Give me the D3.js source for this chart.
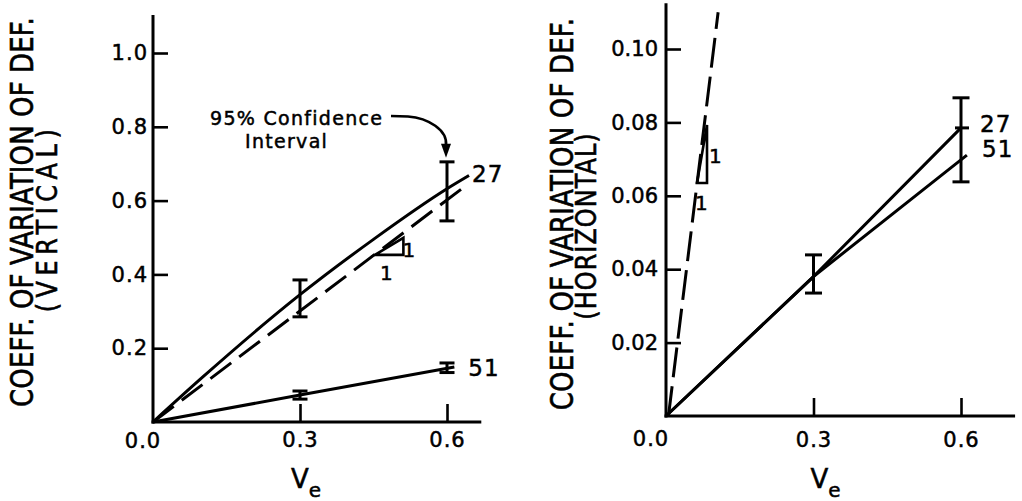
<!DOCTYPE html>
<html><head><meta charset="utf-8">
<script src="https://cdn.jsdelivr.net/npm/d3@7"></script>
<style>
body{margin:0;background:#fff}
svg{display:block}
text{font-family:"DejaVu Sans",sans-serif;fill:#000;stroke:#000;stroke-width:0.5px}
</style>
</head><body>
<svg id="c" width="1022" height="501"></svg>
<script>
// ---------- data ----------
const xTickValues = [0.3, 0.6];
const yTicksVertical = [0.2, 0.4, 0.6, 0.8, 1.0];
const yTicksHorizontal = [0.02, 0.04, 0.06, 0.08, 0.10];

// left panel (vertical)
const vert27 = [[0,0],[0.1,0.12],[0.3,0.345],[0.45,0.495],[0.6,0.632],[0.645,0.668]];
const vert51 = [[0,0],[0.3,0.073],[0.615,0.149]];
const vertOneToOne = [[0,0],[0.632,0.634]];
const vertErr27 = [[0.3,0.285,0.385],[0.6,0.545,0.705]];
const vertErr51 = [[0.3,0.062,0.084],[0.6,0.134,0.160]];
const vertSlopeTri = [[0.453,0.453],[0.511,0.453],[0.511,0.499]];

// right panel (horizontal)
const horz27 = [[0,0],[0.3,0.038],[0.6,0.0785]];
const horz51 = [[0,0],[0.3,0.038],[0.612,0.0711]];
const horzOneToOne = [[0.005,0],[0.106,0.110]];
const horzErr = [[0.3,0.0335,0.0439],[0.6,0.0638,0.0867]];
const horzSlopeTri = [[0.063,0.0635],[0.0834,0.0635],[0.0834,0.0793]];

const seriesLabels = ["27","51"];

// ---------- drawing ----------
const svg = d3.select("#c");

function drawPanel(p){
  const g = svg.append("g");
  const x = p.x, y = p.y;
  g.append("line").attr("x1",x(0)).attr("x2",x(0)).attr("y1",y(0)+1.5).attr("y2",y(p.yMax))
    .attr("stroke","#000").attr("stroke-width",3);
  g.append("line").attr("x1",x(0)-1.5).attr("x2",x(p.xMax)).attr("y1",y(0)).attr("y2",y(0))
    .attr("stroke","#000").attr("stroke-width",3);
  const ya = g.append("g").attr("transform",`translate(${x(0)},0)`)
    .call(d3.axisLeft(y).tickValues(p.yTicks).tickSize(-15).tickPadding(p.yPad).tickFormat(d3.format(p.yFmt)));
  ya.select(".domain").remove();
  ya.selectAll(".tick line").attr("stroke","#000").attr("stroke-width",2.6);
  ya.selectAll(".tick text").attr("font-size",21).attr("font-family","DejaVu Sans").attr("letter-spacing",p.yLs).attr("fill","#000");
  const xa = g.append("g").attr("transform",`translate(0,${y(0)})`)
    .call(d3.axisBottom(x).tickValues(xTickValues).tickSize(-18).tickPadding(p.xPad).tickFormat(d3.format(".1f")));
  xa.select(".domain").remove();
  xa.selectAll(".tick line").attr("stroke","#000").attr("stroke-width",2.6);
  xa.selectAll(".tick text").attr("font-size",21).attr("font-family","DejaVu Sans").attr("letter-spacing",1).attr("fill","#000");
  g.append("text").attr("x",x(0)+p.zeroDx).attr("y",y(0)+p.zeroDy).attr("text-anchor","middle")
    .attr("font-size",21).attr("letter-spacing",1).text("0.0");
  const xl = g.append("text").attr("x",x(0.3)+p.veDx).attr("y",488).attr("text-anchor","middle").attr("font-size",26);
  xl.append("tspan").text("V");
  xl.append("tspan").attr("font-size",20).attr("dy",9).text("e");
  g.append("text").attr("transform",`translate(${p.yl1x},${p.yl1c}) rotate(-90) scale(1,1.2)`)
    .attr("text-anchor","middle").attr("font-size",26).attr("letter-spacing",p.yl1ls)
    .text("COEFF. OF VARIATION OF DEF.");
  g.append("text").attr("transform",`translate(${p.yl2x},${p.yl2c}) rotate(-90) scale(1,1.15)`)
    .attr("text-anchor","middle").attr("font-size",24).attr("letter-spacing",p.yl2ls)
    .text(p.yl2);
  return g;
}

function line(g, x, y, data, opts={}){
  const gen = d3.line().x(d=>x(d[0])).y(d=>y(d[1]));
  if(opts.curve) gen.curve(opts.curve);
  const path = g.append("path").attr("d",gen(data)).attr("fill","none")
    .attr("stroke","#000").attr("stroke-width",opts.w||3).attr("stroke-linejoin","round");
  if(opts.dash) path.attr("stroke-dasharray",opts.dash);
  return path;
}
function errorBars(g, x, y, data, cap){
  data.forEach(d=>{
    g.append("line").attr("x1",x(d[0])).attr("x2",x(d[0])).attr("y1",y(d[1])).attr("y2",y(d[2]))
      .attr("stroke","#000").attr("stroke-width",3);
    [d[1],d[2]].forEach(v=>{
      g.append("line").attr("x1",x(d[0])-cap/2).attr("x2",x(d[0])+cap/2).attr("y1",y(v)).attr("y2",y(v))
        .attr("stroke","#000").attr("stroke-width",3);
    });
  });
}
function slopeTri(g, x, y, tri){
  g.append("path").attr("d",d3.line().x(d=>x(d[0])).y(d=>y(d[1]))(tri)+"Z")
    .attr("fill","none").attr("stroke","#000").attr("stroke-width",2.6);
}

// ---------- left panel ----------
const xL = d3.scaleLinear().domain([0,0.6]).range([153,447]);
const yL = d3.scaleLinear().domain([0,1]).range([422,53]);
const gL = drawPanel({x:xL,y:yL,xMax:0.67,yMax:1.103,yTicks:yTicksVertical,yFmt:".1f",yPad:5,yLs:1,xPad:10,
  zeroDx:-10,zeroDy:26,veDx:6,yl1x:33,yl1c:212,yl1ls:0.1,yl2x:57,yl2c:218,yl2ls:5.5,yl2:"(VERTICAL)"});
line(gL,xL,yL,vertOneToOne,{dash:"26,10",w:3});
line(gL,xL,yL,vert27,{curve:d3.curveMonotoneX});
line(gL,xL,yL,vert51);
errorBars(gL,xL,yL,vertErr27,15);
errorBars(gL,xL,yL,vertErr51,15);
slopeTri(gL,xL,yL,vertSlopeTri);
gL.append("text").attr("x",xL(vertSlopeTri[1][0])-1).attr("y",yL(vertSlopeTri[2][1])+19).attr("font-size",20).text("1");
gL.append("text").attr("x",xL(vertSlopeTri[0][0])+5).attr("y",yL(vertSlopeTri[0][1])+25).attr("font-size",20).text("1");
gL.append("text").attr("x",xL(0.645)+3).attr("y",yL(0.668)+6).attr("font-size",23).attr("letter-spacing",1).text(seriesLabels[0]);
gL.append("text").attr("x",xL(0.615)+14).attr("y",yL(0.149)+9).attr("font-size",23).attr("letter-spacing",1).text(seriesLabels[1]);
gL.append("text").attr("x",210).attr("y",125).attr("font-size",19).attr("letter-spacing",1.3).text("95% Confidence");
gL.append("text").attr("x",245).attr("y",148).attr("font-size",19).attr("letter-spacing",1.3).text("Interval");
const tipX = xL(0.6)-1, tipY = yL(0.705)-4;
const ap = d3.path();
ap.moveTo(391,116); ap.lineTo(408,116.5);
ap.bezierCurveTo(428,118, tipX+2,130, tipX,tipY-12);
gL.append("path").attr("d",ap.toString()).attr("fill","none").attr("stroke","#000").attr("stroke-width",2.6);
gL.append("path").attr("d",`M${tipX-5},${tipY-14}L${tipX+5},${tipY-14}L${tipX},${tipY}Z`).attr("fill","#000");

// ---------- right panel ----------
const xR = d3.scaleLinear().domain([0,0.6]).range([666,961]);
const yR = d3.scaleLinear().domain([0,0.1]).range([416,49]);
const gR = drawPanel({x:xR,y:yR,xMax:0.71,yMax:0.1125,yTicks:yTicksHorizontal,yFmt:".2f",yPad:8,yLs:0,xPad:16,
  zeroDx:-15,zeroDy:30,veDx:12,yl1x:573,yl1c:214,yl1ls:0.2,yl2x:596,yl2c:226,yl2ls:1,yl2:"(HORIZONTAL)"});
line(gR,xR,yR,horzOneToOne,{dash:"30,9",w:3});
line(gR,xR,yR,horz27);
line(gR,xR,yR,horz51);
errorBars(gR,xR,yR,horzErr,17);
gR.append("line").attr("x1",xR(0.6)-6).attr("x2",xR(0.6)+8).attr("y1",yR(0.0785)).attr("y2",yR(0.0785))
  .attr("stroke","#000").attr("stroke-width",3);
slopeTri(gR,xR,yR,horzSlopeTri);
gR.append("text").attr("x",xR(horzSlopeTri[1][0])+2).attr("y",yR(horzSlopeTri[2][1])+38).attr("font-size",20).text("1");
gR.append("text").attr("x",xR(horzSlopeTri[0][0])-2).attr("y",yR(horzSlopeTri[0][1])+27).attr("font-size",20).text("1");
gR.append("text").attr("x",980).attr("y",yR(0.0785)+4).attr("font-size",23).attr("letter-spacing",1).text(seriesLabels[0]);
gR.append("text").attr("x",982).attr("y",yR(0.0711)+2).attr("font-size",23).attr("letter-spacing",1).text(seriesLabels[1]);
</script>
</body></html>
